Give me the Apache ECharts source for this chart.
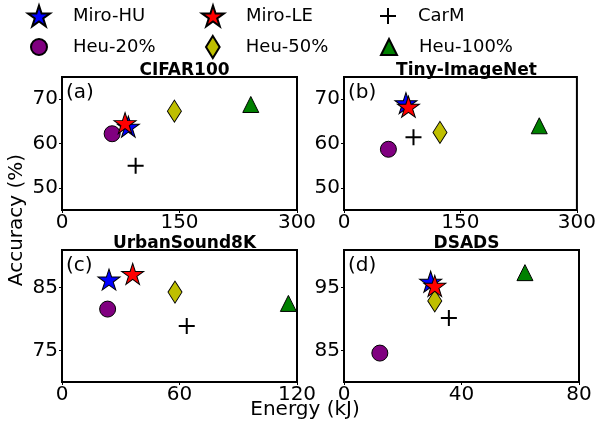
<!DOCTYPE html>
<html>
<head>
<meta charset="utf-8">
<script src="https://cdn.jsdelivr.net/npm/echarts@6/dist/echarts.min.js"></script>
<style>
html,body{margin:0;padding:0;background:#fff;}
#chart{width:599px;height:427px;}
</style>
</head>
<body>
<div id="chart"></div>
<script>
// ---- data ----
const methods = ['Miro-HU', 'Miro-LE', 'CarM', 'Heu-20%', 'Heu-50%', 'Heu-100%'];
const panelTitles = ['CIFAR100', 'Tiny-ImageNet', 'UrbanSound8K', 'DSADS'];
const panelLetters = ['(a)', '(b)', '(c)', '(d)'];
// energy (kJ) per method, order as in `methods`
const energyCIFAR = [84.7, 80.5, 94, 64, 143.5, 241];
const accCIFAR    = [63.8, 64.6, 55.0, 62.2, 67.3, 68.8];
const energyTiny  = [79.8, 83, 89.5, 57.2, 123.6, 251.5];
const accTiny     = [69.1, 68.3, 61.4, 58.7, 62.5, 64.0];
const energyUrban = [24, 36.1, 63.7, 23.3, 57.7, 115.6];
const accUrban    = [86.3, 87.2, 78.9, 81.6, 84.3, 82.5];
const energyDSADS = [29.5, 30.9, 35.7, 12.2, 30.9, 61.6];
const accDSADS    = [95.95, 95.3, 90.2, 84.6, 92.9, 97.4];
// axis ranges / ticks
const xMax = [300, 300, 120, 80];
const xInterval = [150, 150, 60, 40];
const yMin = [45, 45, 70, 80];
const yMax = [75, 75, 91, 101];
const yTicks = [[50, 60, 70], [50, 60, 70], [75, 85], [85, 95]];

const energies = [energyCIFAR, energyTiny, energyUrban, energyDSADS];
const accs = [accCIFAR, accTiny, accUrban, accDSADS];

// ---- styling ----
const FONT = 'DejaVu Sans';
function starPath() {
  let d = '';
  for (let i = 0; i < 10; i++) {
    const r = i % 2 ? 0.382 : 1;
    const a = (-90 + i * 36) * Math.PI / 180;
    d += (i === 0 ? 'M' : 'L') + (r * Math.cos(a)).toFixed(4) + ',' + (r * Math.sin(a)).toFixed(4);
  }
  return 'path://' + d + 'Z';
}
const STAR = starPath();
const PLUS = 'path://M7,0h2v7h7v2h-7v7h-2v-7h-7v-2h7z';
const DIAMOND = 'path://M0,-1L0.62,0L0,1L-0.62,0Z';
const TRI = 'path://M0,-1L1,1L-1,1Z';
const styles = {
  'Miro-HU':  {symbol: STAR, size: [22, 21], color: '#0000ff', border: 1, z: 6},
  'Miro-LE':  {symbol: STAR, size: [22, 21], color: '#ff0000', border: 1, z: 7},
  'CarM':     {symbol: PLUS, size: [16, 16], color: '#000000', border: 0, z: 5},
  'Heu-20%':  {symbol: 'circle', size: [16, 16], color: '#800080', border: 1, z: 2},
  'Heu-50%':  {symbol: DIAMOND, size: [14, 22], color: '#bfbf00', border: 1, z: 3},
  'Heu-100%': {symbol: TRI, size: [16, 16], color: '#008000', border: 1, z: 4}
};

const grids = [
  {left: 62, top: 77, width: 235, height: 133},
  {left: 344, top: 77, width: 235, height: 133},
  {left: 62, top: 250, width: 235, height: 132},
  {left: 344, top: 250, width: 235, height: 132}
];

const xAxes = [], yAxes = [], series = [], titles = [], graphics = [];
for (let p = 0; p < 4; p++) {
  xAxes.push({
    type: 'value', gridIndex: p, min: 0, max: xMax[p], interval: xInterval[p],
    axisLine: {show: false},
    axisTick: {show: true, length: 3, lineStyle: {color: '#000', width: 1}},
    splitLine: {show: false},
    axisLabel: {color: '#000', fontSize: 20, fontFamily: FONT, margin: 3, showMaxLabel: true, showMinLabel: true}
  });
  yAxes.push({
    type: 'value', gridIndex: p, min: yMin[p], max: yMax[p],
    axisLine: {show: false},
    axisTick: {show: true, length: 3, lineStyle: {color: '#000', width: 1}, customValues: yTicks[p]},
    splitLine: {show: false},
    axisLabel: {color: '#000', fontSize: 20, fontFamily: FONT, margin: 4, customValues: yTicks[p]}
  });
  const g = grids[p];
  titles.push({
    text: panelTitles[p], left: g.left + g.width / 2, top: p < 2 ? 57 : 230, textAlign: 'center',
    textStyle: {fontFamily: FONT, fontWeight: 'bold', fontSize: 17, color: '#000'}
  });
  graphics.push({
    type: 'text', x: g.left + 4, y: g.top + 6,
    style: {text: panelLetters[p], font: '20px "DejaVu Sans"', fill: '#000', textAlign: 'left', textVerticalAlign: 'top', align: 'left', verticalAlign: 'top'}
  });
  methods.forEach((m, i) => {
    const s = styles[m];
    series.push({
      name: m, type: 'scatter', xAxisIndex: p, yAxisIndex: p,
      data: [[energies[p][i], accs[p][i]]],
      symbol: s.symbol, symbolSize: s.size, z: s.z,
      itemStyle: {color: s.color, borderColor: '#000', borderWidth: s.border, opacity: 1},
      emphasis: {disabled: true}
    });
  });
}

graphics.push({
  type: 'text', x: 17, y: 220, rotation: Math.PI / 2,
  style: {text: 'Accuracy (%)', font: '20px "DejaVu Sans"', fill: '#000', textAlign: 'center', textVerticalAlign: 'middle', align: 'center', verticalAlign: 'middle'}
});
graphics.push({
  type: 'text', x: 305, y: 410,
  style: {text: 'Energy (kJ)', font: '20px "DejaVu Sans"', fill: '#000', textAlign: 'center', textVerticalAlign: 'middle', align: 'center', verticalAlign: 'middle'}
});

// legend layout: icon centre x, row centre y, text start x
const legendPos = {
  'Miro-HU':  {cx: 38, cy: 15, tx: 72},
  'Miro-LE':  {cx: 212, cy: 15, tx: 245},
  'CarM':     {cx: 388, cy: 15, tx: 418},
  'Heu-20%':  {cx: 38, cy: 46, tx: 72},
  'Heu-50%':  {cx: 212, cy: 46, tx: 245},
  'Heu-100%': {cx: 388, cy: 46, tx: 418}
};
const legends = methods.map(m => {
  const s = styles[m], lp = legendPos[m];
  const w = s.size[0], h = s.size[1];
  const left = lp.cx - w / 2;
  const pad = lp.tx - (left + w + 5);
  return {
    data: [m], left: left, top: lp.cy - h / 2, orient: 'horizontal',
    itemWidth: w, itemHeight: h, selectedMode: false, padding: 0,
    formatter: '{t|{name}}',
    textStyle: {
      fontFamily: FONT, fontSize: 18, color: '#000',
      rich: {t: {fontFamily: FONT, fontSize: 18, color: '#000', padding: [0, 0, 0, pad]}}
    }
  };
});

const chart = echarts.init(document.getElementById('chart'), null, {renderer: 'canvas'});
chart.setOption({
  backgroundColor: '#fff',
  animation: false,
  title: titles,
  legend: legends,
  grid: grids.map(g => Object.assign({show: true, borderColor: '#000', borderWidth: 2, backgroundColor: 'transparent'}, g)),
  xAxis: xAxes,
  yAxis: yAxes,
  series: series,
  graphic: graphics
});
</script>
</body>
</html>
